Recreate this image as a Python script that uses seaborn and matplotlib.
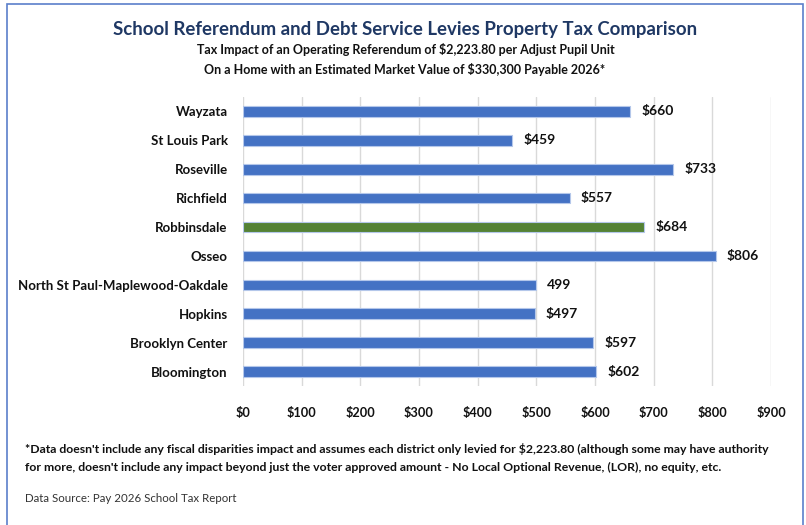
import matplotlib
matplotlib.use("Agg")
import matplotlib.pyplot as plt
import seaborn as sns
import pandas as pd
from matplotlib.patches import Rectangle

districts = ["Wayzata", "St Louis Park", "Roseville", "Richfield", "Robbinsdale",
             "Osseo", "North St Paul-Maplewood-Oakdale", "Hopkins",
             "Brooklyn Center", "Bloomington"]
tax_impact = [660, 459, 733, 557, 684, 806, 499, 497, 597, 602]
value_labels = ["$660", "$459", "$733", "$557", "$684", "$806", "499", "$497", "$597", "$602"]
highlight = ["other", "other", "other", "other", "focus", "other", "other", "other", "other", "other"]
x_ticks = [0, 100, 200, 300, 400, 500, 600, 700, 800, 900]
x_tick_labels = ["$0", "$100", "$200", "$300", "$400", "$500", "$600", "$700", "$800", "$900"]

title = "School Referendum and Debt Service Levies Property Tax Comparison"
subtitle1 = "Tax Impact of an Operating Referendum of $2,223.80 per Adjust Pupil Unit"
subtitle2 = "On a Home with an Estimated Market Value of $330,300 Payable 2026*"
note1 = ("*Data doesn't include any fiscal disparities impact and assumes each district only levied for $2,223.80 "
         "(although some may have authority")
note2 = ("for more, doesn't include any impact beyond just the voter approved amount - No Local Optional Revenue, "
         "(LOR), no equity, etc.")
source = "Data Source: Pay 2026 School Tax Report"

sns.set_theme(style="white")
plt.rcParams["font.family"] = ["Lato", "DejaVu Sans"]

df = pd.DataFrame({"district": districts, "value": tax_impact, "group": highlight})

fig = plt.figure(figsize=(8.06, 5.25), dpi=100)
fig.patch.set_facecolor("white")
ax = fig.add_axes([243/806, 1-386/525, 528/806, 289/525])

sns.barplot(data=df, y="district", x="value", hue="group", order=districts,
            palette={"other": "#4472C4", "focus": "#548235"}, dodge=False, saturation=1,
            width=0.37, edgecolor="#B4C7EA", linewidth=0.8, legend=False, ax=ax)

ax.set_xlim(0, 900)
ax.set_ylim(9.5, -0.5)
ax.set_xticks(x_ticks)
ax.set_xticklabels(x_tick_labels, fontsize=9.2, fontweight="bold")
ax.tick_params(axis="x", length=0, pad=15)
ax.tick_params(axis="y", length=0, pad=11)
for lab in ax.get_yticklabels():
    lab.set_fontsize(9.5)
    lab.set_fontweight("bold")
    lab.set_color("#111111")
for lab in ax.get_xticklabels():
    lab.set_color("#111111")
ax.set_xlabel("")
ax.set_ylabel("")
ax.grid(axis="x", color="#D9D9D9", linewidth=1)
ax.set_axisbelow(True)
for s in ax.spines.values():
    s.set_visible(False)

for cont in ax.containers:
    labs = []
    for bar in cont:
        h = bar.get_height()
        if h != h or bar.get_width() == 0:
            labs.append("")
            continue
        yc = bar.get_y() + h / 2
        idx = int(round(yc))
        labs.append(value_labels[idx])
    ax.bar_label(cont, labels=labs, padding=8, fontsize=10, fontweight="bold", color="#111111")

fig.text(405/806, 1-30/525, title, ha="center", va="center", fontsize=13.4,
         fontweight="bold", color="#1F3864")
fig.text(405.5/806, 1-50/525, subtitle1, ha="center", va="center", fontsize=9,
         fontweight="bold", color="#111111")
fig.text(405/806, 1-70/525, subtitle2, ha="center", va="center", fontsize=9,
         fontweight="bold", color="#111111")
fig.text(25/806, 1-449/525, note1, ha="left", va="center", fontsize=8.85,
         fontweight="bold", color="#111111")
fig.text(25/806, 1-467/525, note2, ha="left", va="center", fontsize=8.85,
         fontweight="bold", color="#111111")
fig.text(25/806, 1-498/525, source, ha="left", va="center", fontsize=8.3,
         color="#333333")

fig.patches.append(Rectangle((7/806, -0.02), 796/806, 1-4/525+0.02, transform=fig.transFigure,
                             fill=False, edgecolor="#5B7FCB", linewidth=1.2))

fig.savefig("out.png", dpi=100)
